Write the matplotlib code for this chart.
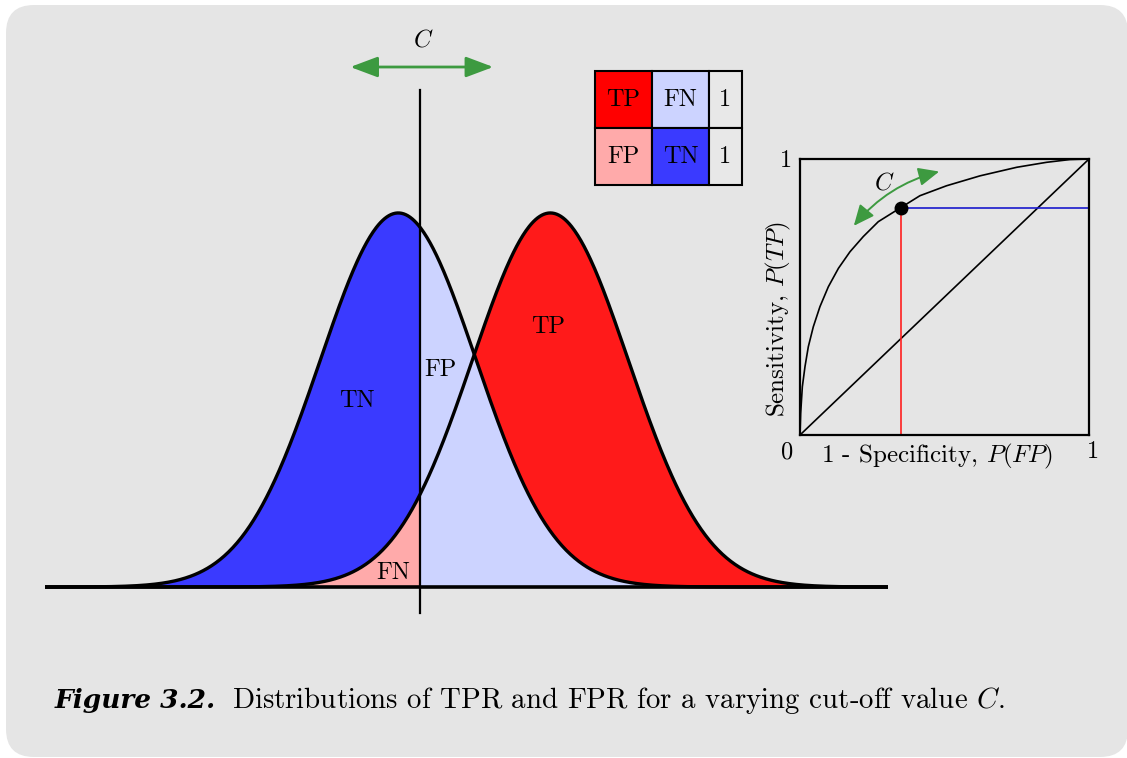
import numpy as np
import matplotlib
matplotlib.use("Agg")
import matplotlib.pyplot as plt
from matplotlib.patches import FancyBboxPatch, Rectangle, FancyArrowPatch

plt.rcParams['font.family'] = ['cmr10', 'DejaVu Serif']
plt.rcParams['mathtext.fontset'] = 'cm'
plt.rcParams['axes.unicode_minus'] = False

# --- data ---------------------------------------------------------------
# two normal distributions (in units of sd) and the cut-off C
mu_neg, mu_pos, sd = 0.0, 1.95, 1.0
cutoff = 0.28
x_min, x_max = -4.53, 6.28

region_labels = ['TN', 'FP', 'TP', 'FN']
region_xy = [(-0.53, 0.198), (0.54, 0.231), (1.92, 0.277), (-0.06, 0.0149)]

table_labels = [['TP', 'FN', '1'], ['FP', 'TN', '1']]

# ROC curve
roc_fpr = [0.0, 0.0023, 0.0081, 0.0173, 0.0288, 0.046, 0.069, 0.098, 0.133,
           0.173, 0.219, 0.271, 0.349, 0.415, 0.507, 0.623, 0.750, 0.853,
           0.934, 1.0]
roc_tpr = [0.0, 0.0785, 0.175, 0.248, 0.320, 0.392, 0.465, 0.537, 0.604,
           0.664, 0.719, 0.773, 0.824, 0.867, 0.903, 0.939, 0.970, 0.988,
           0.998, 1.0]
op_fpr, op_tpr = 0.349, 0.824

# --- colours ------------------------------------------------------------
c_tn = '#3a3aff'
c_fp = '#ccd3ff'
c_tp = '#ff1a1a'
c_fn = '#ffaaaa'
green = '#3d9a40'
bg = '#e5e5e5'

W, H = 1127, 758
lab_fs = 17.5


def px_box(left, top, right, bottom):
    return [left / W, 1 - bottom / H, (right - left) / W, (bottom - top) / H]


fig = plt.figure(figsize=(W / 100, H / 100), dpi=100)
fig.patch.set_facecolor('white')

# rounded grey panel
bga = fig.add_axes([0, 0, 1, 1], zorder=-5)
bga.set_xlim(0, W)
bga.set_ylim(H, 0)
bga.axis('off')
bga.add_patch(FancyBboxPatch((6, 5), 1122, 752,
                             boxstyle='round,pad=0,rounding_size=28',
                             fc=bg, ec='none'))

# --- main panel with the two distributions -------------------------------
ax = fig.add_axes(px_box(45, 40, 888, 640))
ax.axis('off')
ax.set_xlim(x_min, x_max)
ax.set_ylim(-0.0565, 0.5834)

xs = np.sort(np.append(np.linspace(x_min, x_max, 800), cutoff))
neg = np.exp(-0.5 * ((xs - mu_neg) / sd) ** 2) / (sd * np.sqrt(2 * np.pi))
pos = np.exp(-0.5 * ((xs - mu_pos) / sd) ** 2) / (sd * np.sqrt(2 * np.pi))
left = xs <= cutoff
right = xs >= cutoff

ax.fill_between(xs, 0, neg, where=left, color=c_tn, lw=0)
ax.fill_between(xs, 0, pos, where=right, color=c_tp, lw=0)
ax.fill_between(xs, 0, neg, where=right, color=c_fp, lw=0)
ax.fill_between(xs, 0, pos, where=left, color=c_fn, lw=0)
ax.plot(xs, neg, color='k', lw=2.4, solid_capstyle='butt')
ax.plot(xs, pos, color='k', lw=2.4, solid_capstyle='butt')
ax.plot([x_min, x_max], [0, 0], color='k', lw=2.6)
ax.plot([cutoff, cutoff], [-0.0277, 0.530], color='k', lw=1.6)

for lab, (lx, ly) in zip(region_labels, region_xy):
    ax.text(lx, ly, lab, ha='center', va='center', fontsize=lab_fs)

ax.annotate('', xy=(-0.615, 0.5546), xytext=(1.218, 0.5546),
            arrowprops=dict(arrowstyle='<|-|>,head_length=1.2,head_width=0.45',
                            color=green, lw=2, shrinkA=0, shrinkB=0,
                            mutation_scale=14))
ax.text(0.32, 0.5834, '$C$', ha='center', va='center', fontsize=lab_fs)

# --- 2x2 table ----------------------------------------------------------
col_w = [1.0, 1.0, 0.58]
cell_colors = [['#ff0000', c_fp, '#e8e8e8'], ['#ffaaaa', c_tn, '#e8e8e8']]
tab = fig.add_axes(px_box(595, 71, 742, 185))
tab.axis('off')
tab.set_xlim(0, sum(col_w))
tab.set_ylim(2, 0)
for r in range(2):
    x0 = 0
    for c in range(3):
        tab.add_patch(Rectangle((x0, r), col_w[c], 1, fc=cell_colors[r][c],
                                ec='k', lw=1.5, clip_on=False))
        tab.text(x0 + col_w[c] / 2, r + 0.5, table_labels[r][c],
                 ha='center', va='center', fontsize=lab_fs)
        x0 += col_w[c]

# --- ROC inset ----------------------------------------------------------
roc = fig.add_axes(px_box(800, 159, 1089, 435))
roc.set_facecolor('none')
roc.set_xlim(0, 1)
roc.set_ylim(0, 1)
roc.set_xticks([])
roc.set_yticks([])
for s in roc.spines.values():
    s.set_linewidth(1.6)
roc.plot(roc_fpr, roc_tpr, color='k', lw=1.2)
roc.plot([0, 1], [0, 1], color='k', lw=1.2)
roc.plot([op_fpr, op_fpr], [0, op_tpr], color='#ff2020', lw=1.2)
roc.plot([op_fpr, 1], [op_tpr, op_tpr], color='#1a1acc', lw=1.2)
roc.plot(op_fpr, op_tpr, 'o', color='k', ms=9)
roc.add_patch(FancyArrowPatch((0.18, 0.75), (0.491, 0.957),
                              arrowstyle='<|-|>,head_length=0.9,head_width=0.4',
                              connectionstyle='arc3,rad=-0.17',
                              color=green, lw=1.4, mutation_scale=14))
roc.text(0.29, 0.913, '$C$', ha='center', va='center', fontsize=lab_fs)
roc.text(-0.048, 0.993, '1', ha='center', va='center', fontsize=lab_fs)
roc.text(-0.045, -0.062, '0', ha='center', va='center', fontsize=lab_fs)
roc.text(1.014, -0.062, '1', ha='center', va='center', fontsize=lab_fs)
roc.text(0.474, -0.076, '1 - Specificity, $P(FP)$', ha='center', va='center',
         fontsize=lab_fs + 0.5)
roc.text(-0.076, 0.42, 'Sensitivity, $P(TP)$', ha='center', va='center',
         rotation=90, fontsize=lab_fs + 0.5)

# --- caption ------------------------------------------------------------
fig.text(55 / W, 1 - 708 / H, 'Figure 3.2.', fontsize=19,
         family='DejaVu Serif', weight='bold', style='italic',
         va='baseline')
fig.text(232 / W, 1 - 708 / H,
         'Distributions of TPR and FPR for a varying cut-off value $C$.',
         fontsize=20.8, va='baseline')

fig.savefig('out.png', dpi=100, facecolor=fig.get_facecolor())
